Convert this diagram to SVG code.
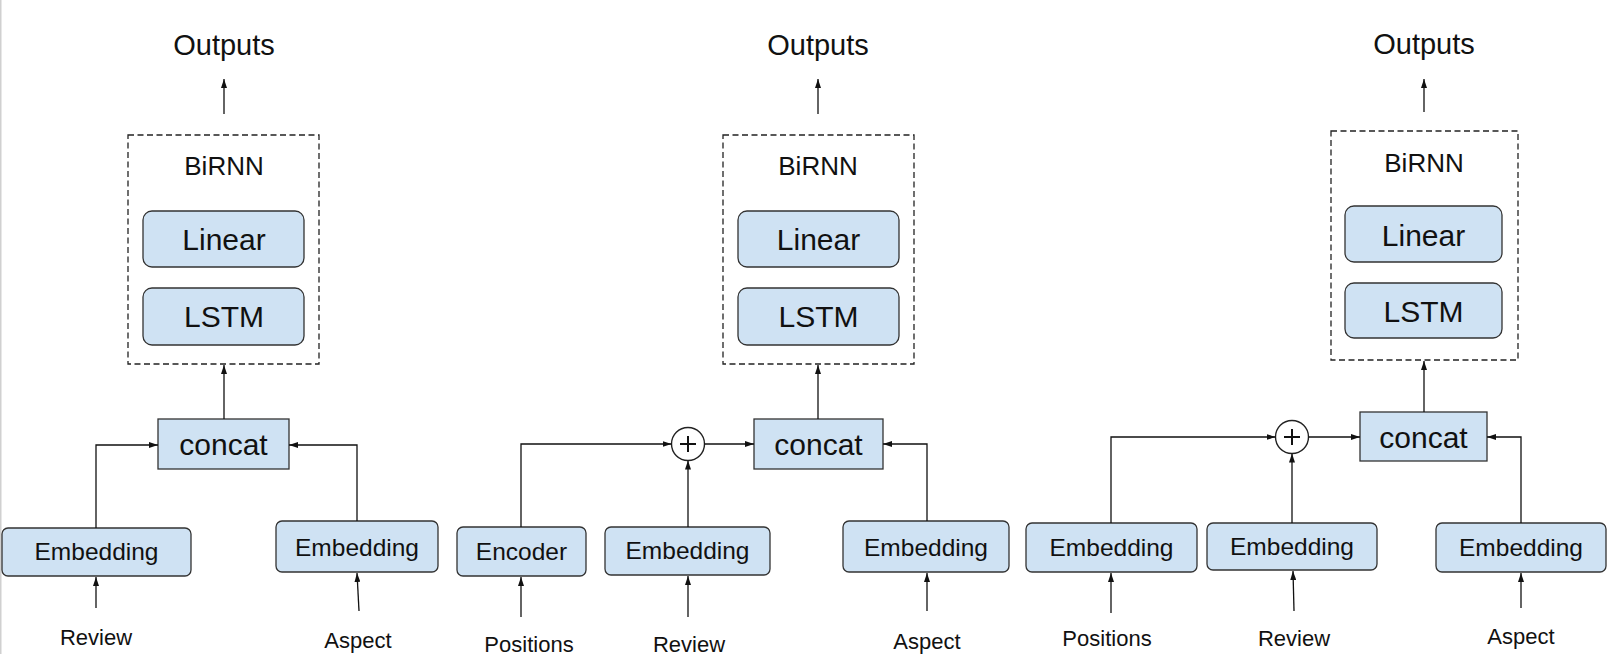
<svg xmlns="http://www.w3.org/2000/svg" width="1616" height="654" viewBox="0 0 1616 654">
<style>
text{font-family:"Liberation Sans",Arial,sans-serif;fill:#111;text-anchor:middle}
.t29{font-size:29px}.t26{font-size:26px}.t30{font-size:30px}.t24{font-size:24.5px}.t22{font-size:22px}
.blk{fill:#cfe2f3;stroke:#333;stroke-width:1.3}
.dash{fill:none;stroke:#222;stroke-width:1.3;stroke-dasharray:6 3.5}
.c{fill:none;stroke:#111;stroke-width:1.3}
.pl{fill:none;stroke:#111;stroke-width:2}
.plus{fill:#fff;stroke:#222;stroke-width:1.4}
</style>
<defs>
<marker id="ah" viewBox="0 0 9 6" refX="9" refY="3" markerWidth="9" markerHeight="6" markerUnits="userSpaceOnUse" orient="auto"><path d="M0,0 L9,3 L0,6 z" fill="#111"/></marker>
</defs>
<rect x="0" y="0" width="1616" height="654" fill="#fff"/>
<line x1="0.75" y1="0" x2="0.75" y2="654" stroke="#d0d0d0" stroke-width="1.5"/>

<!-- Panel 1 -->
<g id="p1-outputs"><text class="t29" x="224" y="55">Outputs</text></g>
<g id="p1-birnn"><rect class="dash" x="128" y="135" width="191" height="229"/><text class="t26" x="224" y="175">BiRNN</text></g>
<g id="p1-linear"><rect class="blk" x="143" y="211" width="161" height="56" rx="9"/><text class="t30" x="224" y="250">Linear</text></g>
<g id="p1-lstm"><rect class="blk" x="143" y="288" width="161" height="57" rx="9"/><text class="t30" x="224" y="327">LSTM</text></g>
<g id="p1-concat"><rect class="blk" x="158" y="419" width="131" height="50"/><text class="t30" x="223.5" y="455">concat</text></g>
<g id="p1-emb-review"><rect class="blk" x="2" y="528" width="189" height="48" rx="6"/><text class="t24" x="96.5" y="560">Embedding</text></g>
<g id="p1-emb-aspect"><rect class="blk" x="276" y="521" width="162" height="51" rx="6"/><text class="t24" x="357" y="556">Embedding</text></g>
<g id="p1-review"><text class="t22" x="96" y="645">Review</text></g>
<g id="p1-aspect"><text class="t22" x="358" y="648">Aspect</text></g>

<!-- Panel 2 -->
<g id="p2-outputs"><text class="t29" x="818" y="55">Outputs</text></g>
<g id="p2-birnn"><rect class="dash" x="723" y="135" width="191" height="229"/><text class="t26" x="818" y="175">BiRNN</text></g>
<g id="p2-linear"><rect class="blk" x="738" y="211" width="161" height="56" rx="9"/><text class="t30" x="818.5" y="250">Linear</text></g>
<g id="p2-lstm"><rect class="blk" x="738" y="288" width="161" height="57" rx="9"/><text class="t30" x="818.5" y="327">LSTM</text></g>
<g id="p2-concat"><rect class="blk" x="754" y="419" width="129" height="50"/><text class="t30" x="818.5" y="455">concat</text></g>
<g id="p2-plus"><circle class="plus" cx="688" cy="444" r="16.5"/><path class="pl" d="M680,444 H696 M688,436 V452"/></g>
<g id="p2-encoder"><rect class="blk" x="457" y="527" width="129" height="49" rx="6"/><text class="t24" x="521.5" y="560">Encoder</text></g>
<g id="p2-emb-review"><rect class="blk" x="605" y="527" width="165" height="48" rx="6"/><text class="t24" x="687.5" y="559">Embedding</text></g>
<g id="p2-emb-aspect"><rect class="blk" x="843" y="521" width="166" height="51" rx="6"/><text class="t24" x="926" y="556">Embedding</text></g>
<g id="p2-positions"><text class="t22" x="529" y="652">Positions</text></g>
<g id="p2-review"><text class="t22" x="689" y="652">Review</text></g>
<g id="p2-aspect"><text class="t22" x="927" y="649">Aspect</text></g>

<!-- Panel 3 -->
<g id="p3-outputs"><text class="t29" x="1424" y="54">Outputs</text></g>
<g id="p3-birnn"><rect class="dash" x="1331" y="131" width="187" height="229"/><text class="t26" x="1424" y="172">BiRNN</text></g>
<g id="p3-linear"><rect class="blk" x="1345" y="206" width="157" height="56" rx="9"/><text class="t30" x="1423.5" y="246">Linear</text></g>
<g id="p3-lstm"><rect class="blk" x="1345" y="283" width="157" height="55" rx="9"/><text class="t30" x="1423.5" y="322">LSTM</text></g>
<g id="p3-concat"><rect class="blk" x="1360" y="412" width="127" height="49"/><text class="t30" x="1423.5" y="448">concat</text></g>
<g id="p3-plus"><circle class="plus" cx="1292" cy="437" r="16.5"/><path class="pl" d="M1284,437 H1300 M1292,429 V445"/></g>
<g id="p3-emb-positions"><rect class="blk" x="1026" y="523" width="171" height="49" rx="6"/><text class="t24" x="1111.5" y="556">Embedding</text></g>
<g id="p3-emb-review"><rect class="blk" x="1207" y="523" width="170" height="47" rx="6"/><text class="t24" x="1292" y="555">Embedding</text></g>
<g id="p3-emb-aspect"><rect class="blk" x="1436" y="523" width="170" height="49" rx="6"/><text class="t24" x="1521" y="556">Embedding</text></g>
<g id="p3-positions"><text class="t22" x="1107" y="646">Positions</text></g>
<g id="p3-review"><text class="t22" x="1294" y="646">Review</text></g>
<g id="p3-aspect"><text class="t22" x="1521" y="644">Aspect</text></g>

<g id="connectors" class="c" marker-end="url(#ah)">
<path class="c" marker-end="url(#ah)" d="M224,114 V79"/>
<path class="c" marker-end="url(#ah)" d="M224,419 V365"/>
<path class="c" marker-end="url(#ah)" d="M96,528 V445 H158"/>
<path class="c" marker-end="url(#ah)" d="M357,521 V445 H289"/>
<path class="c" marker-end="url(#ah)" d="M96,608 V577"/>
<path class="c" marker-end="url(#ah)" d="M359,611 L357,573"/>
<path class="c" marker-end="url(#ah)" d="M818,114 V79"/>
<path class="c" marker-end="url(#ah)" d="M818,419 V365"/>
<path class="c" marker-end="url(#ah)" d="M521,527 V444 H671.5"/>
<path class="c" marker-end="url(#ah)" d="M688,527 V460.5"/>
<path class="c" marker-end="url(#ah)" d="M704.5,444 H754"/>
<path class="c" marker-end="url(#ah)" d="M927,521 V444 H883"/>
<path class="c" marker-end="url(#ah)" d="M521,617 V577"/>
<path class="c" marker-end="url(#ah)" d="M688,617 V576"/>
<path class="c" marker-end="url(#ah)" d="M927,611 V573"/>
<path class="c" marker-end="url(#ah)" d="M1424,112 V79"/>
<path class="c" marker-end="url(#ah)" d="M1424,412 V361"/>
<path class="c" marker-end="url(#ah)" d="M1111,523 V437 H1275.5"/>
<path class="c" marker-end="url(#ah)" d="M1292,523 V453.5"/>
<path class="c" marker-end="url(#ah)" d="M1308.5,437 H1360"/>
<path class="c" marker-end="url(#ah)" d="M1521,523 V437 H1487"/>
<path class="c" marker-end="url(#ah)" d="M1111,613 V573"/>
<path class="c" marker-end="url(#ah)" d="M1294,611 L1293,571"/>
<path class="c" marker-end="url(#ah)" d="M1521,608 V573"/>
</g>
</svg>
